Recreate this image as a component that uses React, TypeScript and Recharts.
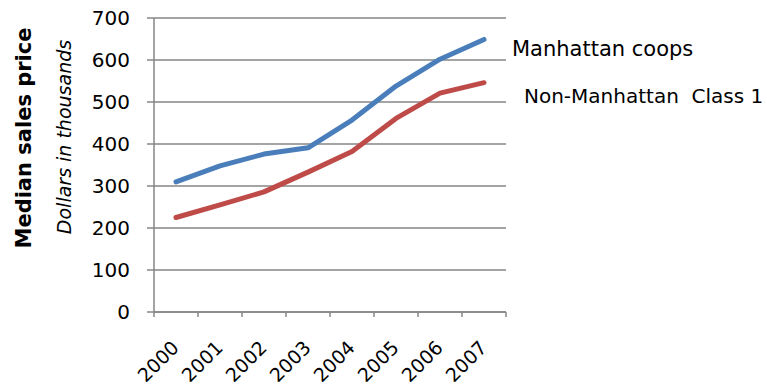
import React from "react";
import { LineChart, Line, XAxis, YAxis, CartesianGrid, LabelList, Label } from "recharts";

const years = ["2000", "2001", "2002", "2003", "2004", "2005", "2006", "2007"];
const manhattanCoops = [310, 348, 376, 391, 457, 538, 602, 649];
const nonManhattanClass1 = [225, 255, 286, 333, 382, 461, 521, 546];
const yTicks = [0, 100, 200, 300, 400, 500, 600, 700];
const seriesNames = ["Manhattan coops", "Non-Manhattan  Class 1"];

const data = years.map((y, i) => ({
  pos: i + 0.5,
  year: y,
  manhattan: manhattanCoops[i],
  nonManhattan: nonManhattanClass1[i],
}));
const boundaryTicks = years.map((_, i) => i).concat([years.length]);

const W = 767;
const H = 391;
const MARGIN = { top: 18, right: 261, bottom: 0, left: 0 };
const Y_AXIS_W = 154;
const X_AXIS_H = 79;
const PLOT_W = W - MARGIN.left - MARGIN.right - Y_AXIS_W;
const HALF_BAND = PLOT_W / years.length / 2;
const FONT = "'DejaVu Sans', sans-serif";
const GRID = "#868686";

const YearTick = (props: any) => {
  const { x, y, payload } = props;
  const v = payload.value;
  if (v >= years.length) return null;
  const ax = x + HALF_BAND + 4;
  const ay = y + 30;
  return (
    <text
      x={ax}
      y={ay}
      transform={`rotate(-45 ${ax} ${ay})`}
      textAnchor="end"
      fontFamily={FONT}
      fontSize={19}
      fill="#000"
    >
      {years[v]}
    </text>
  );
};

const endLabel = (name: string, dx: number, dy: number, size: number) => (props: any) => {
  const { x, y, index } = props;
  if (index !== years.length - 1) return null;
  return (
    <text
      x={x + dx}
      y={y + dy}
      fontFamily={FONT}
      fontSize={size}
      fill="#000"
      style={{ whiteSpace: "pre" }}
    >
      {name}
    </text>
  );
};

export default function App() {
  return (
    <div style={{ position: "absolute", left: 0, top: 0, width: W, height: H, background: "#fff" }}>
      <LineChart width={W} height={H} data={data} margin={MARGIN}>
        <CartesianGrid horizontal vertical={false} stroke={GRID} strokeWidth={1.5} />
        <XAxis
          dataKey="pos"
          type="number"
          domain={[0, years.length]}
          ticks={boundaryTicks}
          interval={0}
          height={X_AXIS_H}
          tickSize={5}
          tickLine={{ stroke: GRID, strokeWidth: 1.5 }}
          axisLine={{ stroke: GRID, strokeWidth: 1.5 }}
          tick={<YearTick />}
        />
        <YAxis
          domain={[0, 700]}
          ticks={yTicks}
          interval={0}
          width={Y_AXIS_W}
          tickSize={7}
          tickMargin={17}
          tickLine={{ stroke: GRID, strokeWidth: 1.5 }}
          axisLine={{ stroke: GRID, strokeWidth: 1.5 }}
          tick={{ fill: "#000", fontSize: 20, fontFamily: FONT }}
        >
          <Label
            content={() => (
              <g>
                <text
                  x={31}
                  y={138}
                  transform="rotate(-90 31 138)"
                  textAnchor="middle"
                  fontFamily={FONT}
                  fontWeight="bold"
                  fontSize={21}
                  fill="#000"
                >
                  Median sales price
                </text>
                <text
                  x={71}
                  y={137}
                  transform="rotate(-90 71 137)"
                  textAnchor="middle"
                  fontFamily={FONT}
                  fontStyle="italic"
                  fontSize={19}
                  fill="#000"
                >
                  Dollars in thousands
                </text>
              </g>
            )}
          />
        </YAxis>
        <Line
          type="linear"
          dataKey="manhattan"
          stroke="#4A7EBB"
          strokeWidth={5}
          strokeLinecap="round"
          strokeLinejoin="round"
          dot={false}
          isAnimationActive={false}
        >
          <LabelList dataKey="manhattan" content={endLabel(seriesNames[0], 28, 17, 21)} />
        </Line>
        <Line
          type="linear"
          dataKey="nonManhattan"
          stroke="#BE4B48"
          strokeWidth={5}
          strokeLinecap="round"
          strokeLinejoin="round"
          dot={false}
          isAnimationActive={false}
        >
          <LabelList dataKey="nonManhattan" content={endLabel(seriesNames[1], 40, 20, 20)} />
        </Line>
      </LineChart>
    </div>
  );
}
